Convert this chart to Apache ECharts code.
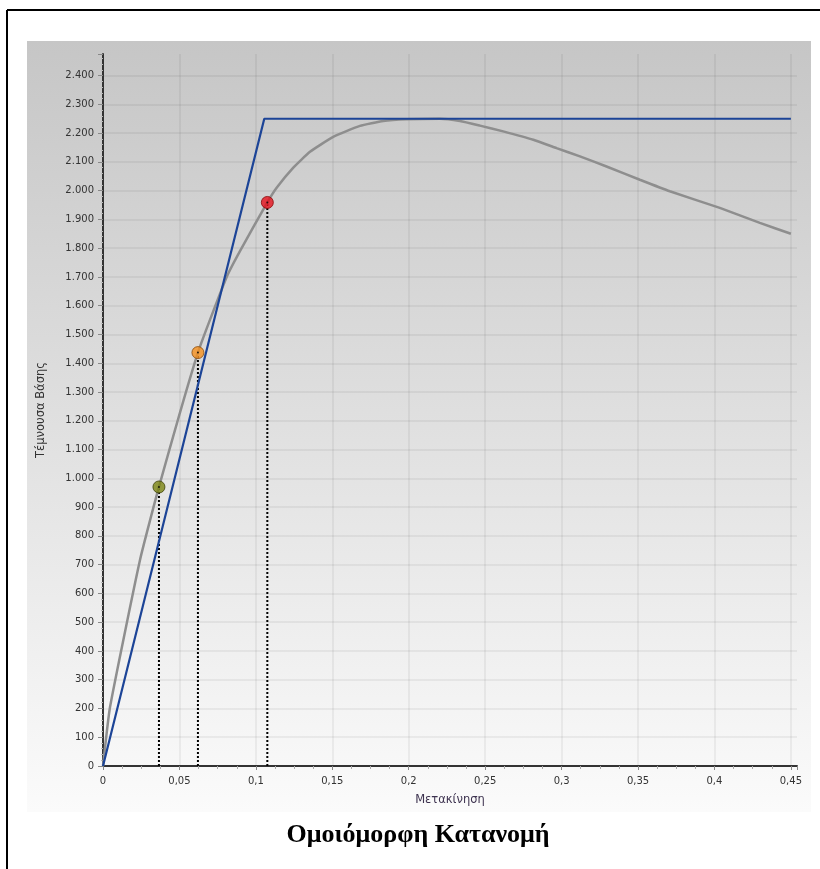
<!DOCTYPE html>
<html>
<head>
<meta charset="utf-8">
<script src="https://cdn.jsdelivr.net/npm/echarts@6/dist/echarts.min.js"></script>
<style>
  html, body { margin: 0; padding: 0; background: #fff; }
  #chart { width: 820px; height: 869px; }
</style>
</head>
<body>
<div id="chart"></div>
<script>
// pushover curve (gray)
let curveX = [0, 0.0046, 0.0242, 0.0366, 0.0621, 0.0809, 0.0896, 0.1075, 0.1136, 0.1245, 0.1354, 0.1506, 0.1681, 0.1833, 0.1986, 0.2204, 0.2335, 0.2466, 0.2618, 0.2815, 0.2967, 0.312, 0.3294, 0.3512, 0.3708, 0.4035, 0.4297, 0.45]
let curveY = [0, 205, 716, 970, 1437, 1700, 1790, 1959, 2010, 2080, 2135, 2187, 2225, 2242, 2248, 2250, 2242, 2226, 2206, 2177, 2148, 2119, 2084, 2038, 1998, 1940, 1888, 1850]

// bilinear idealisation (blue)
let bilinX = [0, 0.1055, 0.45]
let bilinY = [0, 2250, 2250]

// performance points
let pointX = [0.0366, 0.0621, 0.1075]
let pointY = [970, 1437, 1959]
let pointColors = ['#7c8512', '#f5901e', '#e5101b']
let pointBorders = ['#3d4208', '#8a4a0a', '#8a0a0a']

let titleText = 'Ομοιόμορφη Κατανομή'
let xName = 'Μετακίνηση'
let yName = 'Τέμνουσα Βάσης'

let pair = (xs, ys) => xs.map((x, i) => [x, ys[i]])

let series = [{
  name: 'curve',
  type: 'line',
  data: pair(curveX, curveY),
  symbol: 'none',
  smooth: 0.15,
  lineStyle: { color: '#8e8e8e', width: 2.5 },
  z: 3
}, {
  name: 'bilinear',
  type: 'line',
  data: pair(bilinX, bilinY),
  symbol: 'none',
  lineStyle: { color: '#1c4497', width: 2.2 },
  z: 4
}]

// dotted drops from each point to the x axis
for (let i = 0; i < pointX.length; i++) {
  series.push({
    type: 'line',
    data: [[pointX[i], 0], [pointX[i], pointY[i]]],
    symbol: 'none',
    lineStyle: { color: '#000', width: 2, type: [2, 2] },
    z: 2
  })
}

series.push({
  type: 'scatter',
  data: pointX.map((x, i) => ({
    value: [x, pointY[i]],
    itemStyle: { color: pointColors[i], borderColor: pointBorders[i] }
  })),
  symbolSize: 12,
  itemStyle: { borderWidth: 1 },
  z: 6
}, {
  type: 'scatter',
  data: pair(pointX, pointY),
  symbolSize: 2,
  itemStyle: { color: '#000' },
  z: 7
})

let option = {
  animation: false,
  textStyle: { fontFamily: 'DejaVu Sans' },
  graphic: [{
    type: 'rect',
    shape: { x: 27, y: 41, width: 784, height: 771 },
    style: {
      fill: new echarts.graphic.LinearGradient(0, 0, 0, 1, [
        { offset: 0, color: '#c6c6c6' },
        { offset: 0.5, color: '#e0e0e0' },
        { offset: 1, color: '#fbfbfb' }
      ])
    },
    z: -10
  }, {
    type: 'line',
    shape: { x1: 7, y1: 10, x2: 820, y2: 10 },
    style: { stroke: '#000', lineWidth: 2 }
  }, {
    type: 'line',
    shape: { x1: 7, y1: 10, x2: 7, y2: 869 },
    style: { stroke: '#000', lineWidth: 2 }
  }, {
    type: 'text',
    x: 418,
    y: 835,
    style: {
      text: titleText,
      font: 'bold 26px "Liberation Serif"',
      fill: '#000',
      textAlign: 'center',
      textVerticalAlign: 'middle'
    }
  }],
  grid: {
    left: 103,
    right: 23,
    top: 54,
    bottom: 103
  },
  xAxis: {
    type: 'value',
    min: 0,
    max: 0.454,
    interval: 0.05,
    name: xName,
    nameLocation: 'middle',
    nameGap: 28,
    nameTextStyle: { color: '#3e3350', fontSize: 11.5 },
    axisLine: { show: true, lineStyle: { color: '#333', width: 2 } },
    axisTick: { show: true, length: 4, lineStyle: { color: '#888' } },
    minorTick: { show: true, splitNumber: 4, length: 3, lineStyle: { color: '#aaa' } },
    axisLabel: {
      color: '#333',
      fontSize: 10,
      margin: 10,
      showMaxLabel: false,
      formatter: v => String(+v.toFixed(2)).replace('.', ',')
    },
    splitLine: { show: true, showMaxLine: false, lineStyle: { color: 'rgba(0,0,0,0.07)', width: 1.5 } }
  },
  yAxis: {
    type: 'value',
    min: 0,
    max: 2475,
    interval: 100,
    name: yName,
    nameLocation: 'middle',
    nameGap: 56,
    nameTextStyle: { color: '#333', fontSize: 11.5 },
    axisLine: { show: true, lineStyle: { color: '#333', width: 2 } },
    axisTick: { show: true, length: 5, lineStyle: { color: '#888' } },
    minorTick: { show: true, splitNumber: 5, length: 2, lineStyle: { color: '#bbb' } },
    axisLabel: {
      color: '#333',
      fontSize: 10,
      margin: 9,
      showMaxLabel: false,
      formatter: v => v >= 1000 ? Math.floor(v / 1000) + '.' + String(v % 1000).padStart(3, '0') : String(v)
    },
    splitLine: { show: true, showMaxLine: false, lineStyle: { color: 'rgba(0,0,0,0.07)', width: 1.5 } }
  },
  series: series
}

let chart = echarts.init(document.getElementById('chart'))
chart.setOption(option)
</script>
</body>
</html>
